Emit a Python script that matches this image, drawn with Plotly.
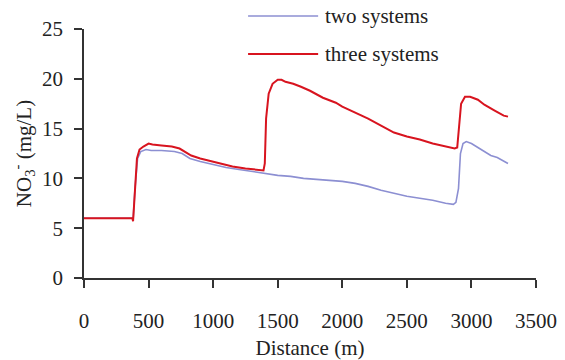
import plotly.graph_objects as go

# Nitrate concentration along the flow path (m -> mg/L)
dist_two = [0, 100, 200, 300, 375, 380, 395, 415, 440, 480, 520, 600, 700, 760, 820, 900,
            1000, 1100, 1200, 1300, 1400, 1500, 1600, 1700, 1800, 1900, 2000, 2100, 2200,
            2300, 2400, 2500, 2600, 2700, 2800, 2860, 2880, 2900, 2915, 2935, 2960, 3000,
            3050, 3100, 3150, 3200, 3250, 3283]
no3_two = [6.0, 6.0, 6.0, 6.0, 6.0, 5.8, 9.0, 12.0, 12.7, 12.9, 12.8, 12.8, 12.7, 12.5, 12.0,
           11.7, 11.4, 11.1, 10.9, 10.7, 10.5, 10.3, 10.2, 10.0, 9.9, 9.8, 9.7, 9.5, 9.2,
           8.8, 8.5, 8.2, 8.0, 7.8, 7.5, 7.4, 7.6, 9.0, 12.5, 13.5, 13.7, 13.5, 13.1, 12.7,
           12.3, 12.1, 11.7, 11.5]

dist_three = [0, 100, 200, 300, 375, 380, 395, 410, 430, 460, 500, 530, 600, 680, 740, 780,
              830, 900, 1000, 1050, 1150, 1250, 1340, 1390, 1400, 1410, 1430, 1460, 1500,
              1530, 1560, 1620, 1680, 1750, 1850, 1950, 2000, 2100, 2200, 2300, 2400, 2500,
              2600, 2700, 2800, 2870, 2890, 2905, 2920, 2950, 2990, 3050, 3100, 3180, 3250,
              3283]
no3_three = [6.0, 6.0, 6.0, 6.0, 6.0, 5.7, 9.5, 12.0, 12.9, 13.2, 13.5, 13.4, 13.3, 13.2,
             13.0, 12.7, 12.3, 12.0, 11.7, 11.5, 11.2, 11.0, 10.9, 10.8, 11.5, 16.0, 18.5,
             19.5, 19.9, 19.9, 19.7, 19.5, 19.2, 18.8, 18.1, 17.6, 17.2, 16.6, 16.0, 15.3,
             14.6, 14.2, 13.9, 13.5, 13.2, 13.0, 13.1, 15.0, 17.5, 18.2, 18.2, 17.9, 17.4,
             16.8, 16.3, 16.2]

series_names = ["two systems", "three systems"]
series_colors = ["#8c8fd2", "#d8141f"]

x_ticks = [0, 500, 1000, 1500, 2000, 2500, 3000, 3500]
y_ticks = [0, 5, 10, 15, 20, 25]

FONT = "Liberation Serif, Times New Roman, serif"
FS = 21

fig = go.Figure()
fig.add_trace(go.Scatter(x=dist_two, y=no3_two, mode="lines", name=series_names[0],
                         line=dict(color=series_colors[0], width=1.6)))
fig.add_trace(go.Scatter(x=dist_three, y=no3_three, mode="lines", name=series_names[1],
                         line=dict(color=series_colors[1], width=2)))

# Hand-built key with long line samples
key_rows = [(1.052, 0), (0.90, 1)]
for ypos, i in key_rows:
    fig.add_shape(type="line", xref="paper", yref="paper", x0=0.363, x1=0.518,
                  y0=ypos, y1=ypos, line=dict(color=series_colors[i], width=2 if i else 1.6))
    fig.add_annotation(xref="paper", yref="paper", x=0.529, y=ypos, text=series_names[i],
                       showarrow=False, xanchor="left", yanchor="middle",
                       font=dict(family=FONT, size=FS, color="#222"))

axis_common = dict(showgrid=False, zeroline=False, showline=True, linecolor="#333",
                   linewidth=1.5, ticks="outside", ticklen=8, tickwidth=1.5, automargin=False,
                   tickcolor="#333", tickfont=dict(family=FONT, size=FS, color="#222"))

fig.update_xaxes(range=[0, 3500], tickvals=x_ticks, ticklabelstandoff=15,
                 title=dict(text="Distance (m)", font=dict(family=FONT, size=FS, color="#222"),
                            standoff=12),
                 **axis_common)
fig.update_yaxes(range=[0, 25], tickvals=y_ticks, ticklabelstandoff=7,
                 title=dict(text="NO<sub>3</sub><sup>-</sup> (mg/L)",
                            font=dict(family=FONT, size=FS, color="#222"), standoff=5),
                 **axis_common)

fig.update_layout(width=565, height=360, showlegend=False,
                  margin=dict(l=84, r=29, t=29, b=82),
                  paper_bgcolor="white", plot_bgcolor="white")

fig.write_html("out.html")
